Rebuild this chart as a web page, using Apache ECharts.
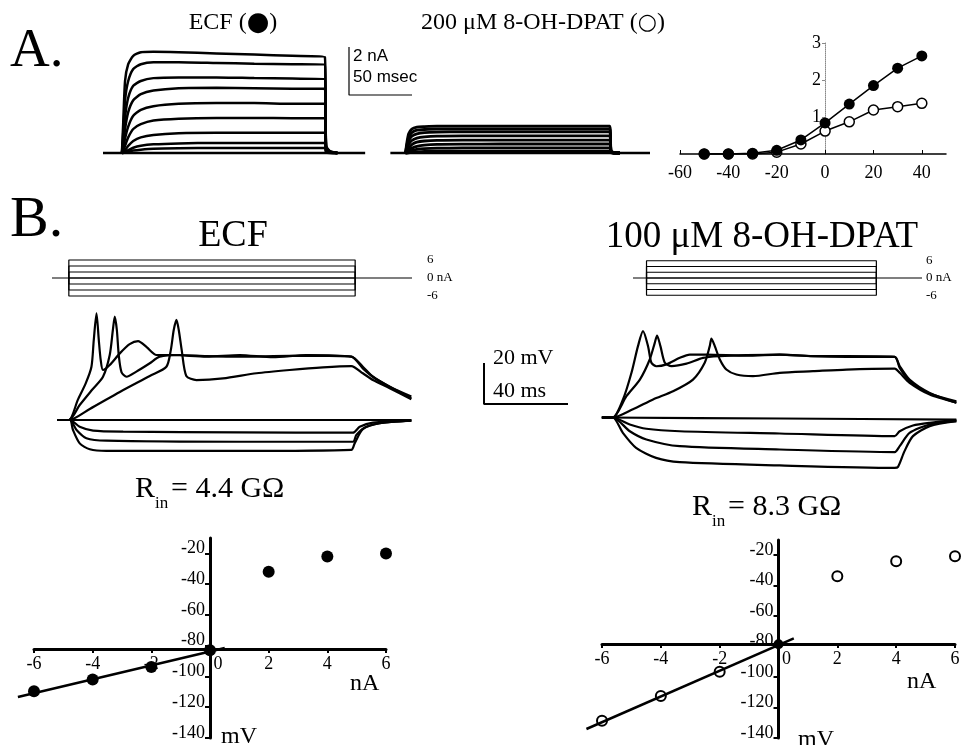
<!DOCTYPE html>
<html>
<head>
<meta charset="utf-8">
<script src="https://cdn.jsdelivr.net/npm/echarts@6/dist/echarts.min.js"></script>
<style>
html, body { margin: 0; padding: 0; background: #fff; }
#main { width: 968px; height: 745px; }
</style>
</head>
<body>
<div id="main"></div>
<script>
// ---- A: voltage clamp currents (ms, nA) ----
var timeEcfA = [15, 16, 17.5, 20, 24, 30, 40, 60, 90, 120, 150, 176, 177, 180, 186];
var currEcfA = [
    [0, 1.2, 3.0, 3.7, 4.05, 4.2, 4.22, 4.2, 4.15, 4.1, 4.05, 4.0, 0.3, 0.08, 0],
    [0, 0.8, 2.2, 3.0, 3.5, 3.7, 3.78, 3.78, 3.75, 3.72, 3.7, 3.68, 0.28, 0.06, 0],
    [0, 0.5, 1.5, 2.3, 2.8, 3.0, 3.12, 3.15, 3.15, 3.12, 3.1, 3.08, 0.25, 0.05, 0],
    [0, 0.3, 1.0, 1.7, 2.2, 2.45, 2.6, 2.7, 2.72, 2.7, 2.68, 2.68, 0.2, 0.05, 0],
    [0, 0.15, 0.6, 1.1, 1.55, 1.8, 1.95, 2.05, 2.08, 2.08, 2.05, 2.05, 0.18, 0.04, 0],
    [0, 0.08, 0.3, 0.65, 1.0, 1.2, 1.35, 1.43, 1.46, 1.46, 1.45, 1.45, 0.14, 0.03, 0],
    [0, 0.03, 0.12, 0.3, 0.5, 0.65, 0.75, 0.82, 0.84, 0.84, 0.84, 0.84, 0.1, 0.02, 0],
    [0, 0.01, 0.05, 0.12, 0.22, 0.3, 0.36, 0.4, 0.42, 0.42, 0.42, 0.42, 0.06, 0.01, 0],
    [0, 0, 0.02, 0.05, 0.1, 0.14, 0.18, 0.2, 0.21, 0.21, 0.21, 0.21, 0.03, 0, 0]
];
var timeDpatA = [240, 241, 242.5, 245, 249, 255, 265, 285, 315, 345, 375, 402, 403, 405, 410];
var currDpatA = [
    [0, 0.4, 0.8, 1.0, 1.08, 1.1, 1.12, 1.12, 1.12, 1.12, 1.12, 1.12, 0.12, 0.03, 0],
    [0, 0.3, 0.65, 0.85, 0.95, 0.98, 1.0, 1.0, 1.0, 1.0, 1.0, 1.0, 0.1, 0.02, 0],
    [0, 0.2, 0.5, 0.7, 0.8, 0.85, 0.87, 0.88, 0.88, 0.88, 0.88, 0.88, 0.08, 0.02, 0],
    [0, 0.12, 0.35, 0.52, 0.62, 0.67, 0.7, 0.71, 0.71, 0.71, 0.71, 0.71, 0.07, 0.01, 0],
    [0, 0.07, 0.2, 0.35, 0.45, 0.5, 0.53, 0.54, 0.54, 0.54, 0.54, 0.54, 0.05, 0.01, 0],
    [0, 0.03, 0.1, 0.2, 0.28, 0.33, 0.36, 0.37, 0.375, 0.375, 0.375, 0.375, 0.04, 0, 0],
    [0, 0.01, 0.04, 0.1, 0.15, 0.18, 0.2, 0.21, 0.21, 0.21, 0.21, 0.21, 0.02, 0, 0],
    [0, 0, 0.01, 0.03, 0.05, 0.07, 0.08, 0.08, 0.08, 0.08, 0.08, 0.08, 0.01, 0, 0]
];
var baseEcfA = [0, 208];
var baseDpatA = [228, 434];
var scaleBarA = [50, 2];   // msec, nA

// ---- A: I-V (mV, nA) ----
var ivVolt = [-50, -40, -30, -20, -10, 0, 10, 20, 30, 40];
var ivEcfA = [0, 0, 0.02, 0.1, 0.38, 0.84, 1.35, 1.85, 2.32, 2.65];
var ivDpatA = [0, 0, 0, 0.05, 0.27, 0.62, 0.87, 1.19, 1.28, 1.37];
var ivTicksA = [-60, -40, -20, 0, 20, 40];
var ivTicksYA = [1, 2, 3];

// ---- B: current steps (nA) ----
var stepLevels = [-6, -4, -2, 0, 2, 4, 6];
var stepTimes = [0, 136];
var stepSpan = [-8, 163];
var stepLabels = [-6, 0, 6];

// ---- B: voltage traces, ECF (ms, mV) ----
var vEcfP6 = [[-5.5, -80], [0, -80], [4.3, -70.2], [8.1, -62], [10.8, -54], [11.9, -41], [13.2, -28], [14.3, -41], [15.2, -50.7], [16.3, -55.6], [19.5, -53.2], [24.3, -47.5], [29, -43], [33, -41.5], [37.1, -44.4], [41.8, -48.3], [49.5, -48.3], [65.6, -49.1], [81.4, -48.3], [97.3, -49.4], [113.2, -48.3], [134.6, -49.1], [140.1, -54], [144.9, -58.9], [152.9, -63.8], [163.2, -68.6]];
var vEcfP4 = [[-5.5, -80], [0, -80], [5.2, -72.7], [11, -65.4], [16.3, -58.9], [19.5, -48.3], [21, -36.1], [21.9, -29.6], [22.9, -36.1], [23.8, -48.3], [25.1, -56.6], [27.5, -58.9], [32.2, -56.4], [38.6, -52.3], [43.3, -49.1], [52.9, -48.3], [65.6, -48.8], [81.4, -49.1], [97.3, -48.8], [113.2, -48.6], [134.6, -49.1], [140.1, -54.8], [144.9, -58.9], [152.9, -63.8], [163.2, -69.4]];
var vEcfP2 = [[-5.5, -80], [0, -80], [10, -74.6], [24.3, -66.3], [38.6, -58.5], [46.5, -54], [48.6, -45.9], [50, -36.1], [51.3, -31.2], [52.4, -36.1], [53.8, -45.9], [56, -58.5], [60.8, -60.5], [73.5, -59.7], [89.4, -57.2], [105.2, -55.6], [121.1, -54.3], [134.6, -53.7], [140.1, -57.2], [144.9, -60.5], [152.9, -64.5], [163.2, -69.9]];
var vEcfZero = [[-5.5, -80], [163.2, -80]];
var vEcfN2 = [[-5.5, -80], [0.5, -80], [5.2, -83.3], [11.6, -85.2], [25.9, -85.7], [81.4, -86], [135.4, -86.2], [138.6, -83.3], [144.9, -81.3], [163.2, -80.3]];
var vEcfN4 = [[-5.5, -80], [0.5, -80], [3.7, -84.9], [8.4, -88.9], [17.9, -90.1], [81.4, -90.6], [135.4, -90.6], [137, -87.3], [141.7, -83.3], [151.3, -81.1], [163.2, -80.3]];
var vEcfN6 = [[-5.5, -80], [0.5, -80], [2, -84.9], [5.2, -91.4], [10, -94.3], [17.9, -95.1], [81.4, -95.1], [134.6, -94.6], [136.2, -91.4], [140.1, -84.5], [148.1, -81.6], [163.2, -80.3]];

// ---- B: voltage traces, 8-OH-DPAT (ms, mV) ----
var vDpatP6 = [[-5.2, -80], [0, -80], [4.9, -71.1], [8.9, -58.2], [12, -45.2], [14.4, -37.9], [16.8, -45.2], [18.4, -53.3], [20.8, -55], [25.6, -54.1], [31.9, -50.9], [36.7, -49.3], [44.6, -49.3], [63.7, -49.8], [79.5, -49.3], [95.4, -50.1], [111.3, -50.4], [134.3, -50.4], [136.7, -54.9], [141.4, -61.5], [151, -68], [163.7, -72.8]];
var vDpatP4 = [[-5.2, -80], [0, -80], [6.5, -69.6], [12.9, -61.5], [17.6, -51.7], [20, -43.6], [21.1, -40], [22.7, -45.2], [24.8, -53.3], [28, -54.9], [35.1, -53.7], [43, -50.9], [51, -50.1], [63.7, -49.6], [79.5, -49.3], [95.4, -50.1], [111.3, -50.1], [134.3, -50.4], [136.7, -55.8], [141.4, -62.3], [151, -68.3], [163.7, -72.1]];
var vDpatP2 = [[-5.2, -80], [0, -80], [9.6, -76], [19.2, -71.2], [28.7, -67.2], [38.2, -61.5], [43.8, -53.3], [46.2, -45.2], [47, -41.5], [48.6, -45.2], [51, -51.7], [54.1, -56.6], [58.9, -59], [66.8, -59.8], [79.5, -58.2], [95.4, -57.4], [111.3, -56.6], [134.3, -56.2], [136.7, -58.2], [141.4, -63.1], [151, -68.8], [163.7, -72.8]];
var vDpatZero = [[-5.2, -80], [80, -80.5], [163.7, -81]];
var vDpatN2 = [[-5.2, -80], [0, -80], [8.1, -83.4], [16, -85.5], [31.9, -86.7], [79.5, -87.8], [134.3, -89.1], [136.7, -86.7], [143, -83.9], [151, -82.6], [163.7, -81.3]];
var vDpatN4 = [[-5.2, -80], [0, -80], [8.1, -86.7], [16, -90.7], [31.9, -94], [79.5, -95.6], [134.3, -96.9], [136.7, -94], [141.4, -87.5], [151, -83.4], [163.7, -81.8]];
var vDpatN6 = [[-5.2, -80], [0, -80], [4.8, -87.5], [11.1, -94.8], [20.6, -99.7], [31.9, -101.8], [79.5, -103.4], [134.3, -104.6], [135.9, -104.1], [139, -96.4], [143, -89.1], [151, -84.2], [163.7, -81.8]];
var scaleBarB = [40, 20];  // ms, mV

// ---- B: V-I plots (nA, mV) ----
var ivCurrent = [-6, -4, -2, 0, 2, 4, 6];
var ivEcfMv = [-109.6, -102, -93.8, -83, -32, -22, -20];
var ivDpatMv = [-128.7, -112.5, -96.5, -78.4, -33.8, -23.9, -20.7];
var fitEcf = [[-6.55, -113.3], [0.5, -81.5]];
var fitDpat = [[-6.53, -134.1], [0.52, -74.6]];
var mvTicks = [-140, -120, -100, -80, -60, -40, -20];

var SERIF = 'Liberation Serif';
var SANS = 'Liberation Sans';

function zip(xs, ys) {
    return xs.map(function (x, i) { return [x, ys[i]]; });
}

function trace(idx, data, width, smooth) {
    return {
        type: 'line', xAxisIndex: idx, yAxisIndex: idx, data: data,
        symbol: 'none', smooth: smooth || false, silent: true, clip: false,
        lineStyle: {color: '#000', width: width}
    };
}

function hidden(idx, min, max) {
    return {gridIndex: idx, type: 'value', min: min, max: max, show: false};
}

function txt(x, y, s, size, align, family) {
    return {
        type: 'text', x: x, y: y, silent: true,
        style: {
            text: s, fill: '#000', fontSize: size, fontFamily: family || SERIF,
            align: align || 'left', verticalAlign: 'middle'
        }
    };
}

var grids = [
    {left: 103, top: 45, width: 547, height: 120},   // 0 A traces
    {left: 349, top: 47, width: 63, height: 48},     // 1 A scale bar
    {left: 680, top: 43, width: 266, height: 111},   // 2 A I-V
    {left: 52, top: 254, width: 360, height: 48},    // 3 ECF steps
    {left: 52, top: 297, width: 361, height: 164},   // 4 ECF voltage
    {left: 633, top: 255, width: 289, height: 46},   // 5 DPAT steps
    {left: 596, top: 315, width: 361, height: 164},  // 6 DPAT voltage
    {left: 484, top: 363, width: 84, height: 41},    // 7 B scale bar
    {left: 34, top: 538, width: 352, height: 200},   // 8 ECF V-I
    {left: 602, top: 540, width: 353, height: 198},  // 9 DPAT V-I
    {left: 4.7, top: 538, width: 234.7, height: 200},  // 10 ECF fit
    {left: 572.6, top: 540, width: 235.3, height: 198} // 11 DPAT fit
];
grids.forEach(function (g) { g.containLabel = false; g.outerBoundsMode = 'none'; });

var stepYAxis = function (idx, margin) {
    return {
        gridIndex: idx, type: 'value', min: -8, max: 8, position: 'right',
        axisLine: {show: false}, axisTick: {show: false}, splitLine: {show: false},
        axisLabel: {
            customValues: stepLabels, margin: margin, color: '#000',
            fontFamily: SERIF, fontSize: 13, align: 'left',
            formatter: function (v) { return v === 0 ? '0 nA' : String(v); }
        }
    };
};

var viXAxis = function (idx, offset) {
    return {
        gridIndex: idx, type: 'value', min: -6, max: 6, interval: 2,
        position: 'bottom', offset: offset,
        axisLine: {onZero: false, lineStyle: {color: '#000', width: 3}},
        axisTick: {show: true, length: 4, lineStyle: {color: '#000', width: 2}},
        splitLine: {show: false},
        axisLabel: {
            color: '#000', fontFamily: SERIF, fontSize: 18, margin: 6,
            formatter: function (v) { return v === 0 ? '{z|0}' : String(v); },
            rich: {z: {padding: [0, 0, 0, 16], color: '#000', fontFamily: SERIF, fontSize: 18}}
        }
    };
};

var viYAxis = function (idx, offset) {
    return {
        gridIndex: idx, type: 'value', min: -140, max: -10,
        position: 'left', offset: offset,
        axisLine: {show: true, onZero: false, lineStyle: {color: '#000', width: 3}},
        axisTick: {show: true, length: 5, customValues: mvTicks, lineStyle: {color: '#000', width: 2}},
        splitLine: {show: false},
        axisLabel: {
            customValues: mvTicks, color: '#000', fontFamily: SERIF, fontSize: 18,
            margin: 5, verticalAlign: 'bottom', lineHeight: 10
        }
    };
};

var xAxes = [
    hidden(0, 0, 434),
    hidden(1, 0, 50),
    {
        gridIndex: 2, type: 'value', min: -60, max: 50,
        axisLine: {onZero: false, lineStyle: {color: '#000', width: 1.5}},
        axisTick: {show: true, inside: true, length: 4, customValues: ivTicksA, lineStyle: {color: '#000'}},
        splitLine: {show: false},
        axisLabel: {customValues: ivTicksA, color: '#000', fontFamily: SERIF, fontSize: 18, margin: 10}
    },
    hidden(3, stepSpan[0], stepSpan[1]),
    hidden(4, -8, 164),
    hidden(5, stepSpan[0], stepSpan[1]),
    hidden(6, -8, 164),
    hidden(7, 0, 40),
    viXAxis(8, -89),
    viXAxis(9, -94),
    hidden(10, -7, 1),
    hidden(11, -7, 1)
];

var yAxes = [
    hidden(0, -0.5, 4.5),
    hidden(1, 0, 2),
    {
        gridIndex: 2, type: 'value', min: 0, max: 3, position: 'left', offset: -145,
        axisLine: {show: true, onZero: false, lineStyle: {color: '#888', width: 1, type: 'dotted'}},
        axisTick: {show: true, length: 3, customValues: ivTicksYA, lineStyle: {color: '#888'}},
        splitLine: {show: false},
        axisLabel: {customValues: ivTicksYA, color: '#000', fontFamily: SERIF, fontSize: 18, margin: 4}
    },
    stepYAxis(3, 15),
    hidden(4, -100, -20),
    stepYAxis(5, 4),
    hidden(6, -110, -30),
    hidden(7, 0, 20),
    viYAxis(8, -176),
    viYAxis(9, -176.5),
    hidden(10, -140, -10),
    hidden(11, -140, -10)
];

var series = [];

// A current traces
series.push(trace(0, [[baseEcfA[0], 0], [baseEcfA[1], 0]], 2.5));
series.push(trace(0, [[baseDpatA[0], 0], [baseDpatA[1], 0]], 2.5));
currEcfA.forEach(function (c) { series.push(trace(0, zip(timeEcfA, c), 2.5, 0.2)); });
currDpatA.forEach(function (c) { series.push(trace(0, zip(timeDpatA, c), 2.8, 0.2)); });
series.push(trace(1, [[0, scaleBarA[1]], [0, 0], [scaleBarA[0], 0]], 1.2));

// A I-V
series.push({
    type: 'line', xAxisIndex: 2, yAxisIndex: 2, data: zip(ivVolt, ivDpatA),
    symbol: 'circle', symbolSize: 10, showSymbol: true, silent: true,
    lineStyle: {color: '#000', width: 1.5},
    itemStyle: {color: '#fff', borderColor: '#000', borderWidth: 1.5}
});
series.push({
    type: 'line', xAxisIndex: 2, yAxisIndex: 2, data: zip(ivVolt, ivEcfA),
    symbol: 'circle', symbolSize: 11, showSymbol: true, silent: true,
    lineStyle: {color: '#000', width: 1.5},
    itemStyle: {color: '#000', borderColor: '#000', borderWidth: 0}
});

// B current steps
[3, 5].forEach(function (g) {
    series.push(trace(g, [[stepSpan[0], 0], [stepSpan[1], 0]], 1.2));
    stepLevels.forEach(function (lv) {
        series.push(trace(g, [[stepTimes[0], 0], [stepTimes[0], lv], [stepTimes[1], lv], [stepTimes[1], 0]], 1.2));
    });
});

// B voltage traces
[vEcfZero, vEcfN2, vEcfN4, vEcfN6, vEcfP2, vEcfP4, vEcfP6].forEach(function (d) {
    series.push(trace(4, d, 2.2, 0.25));
});
[vDpatZero, vDpatN2, vDpatN4, vDpatN6, vDpatP2, vDpatP4, vDpatP6].forEach(function (d) {
    series.push(trace(6, d, 2.2, 0.25));
});
series.push(trace(7, [[0, scaleBarB[1]], [0, 0], [scaleBarB[0], 0]], 2));

// B V-I plots
series.push(trace(10, fitEcf, 2.5));
series.push({
    type: 'scatter', xAxisIndex: 8, yAxisIndex: 8, data: zip(ivCurrent, ivEcfMv),
    symbolSize: 12, silent: true, itemStyle: {color: '#000', opacity: 1}
});
series.push(trace(11, fitDpat, 2.5));
var dpatPts = zip(ivCurrent, ivDpatMv);
series.push({
    type: 'scatter', xAxisIndex: 9, yAxisIndex: 9,
    data: dpatPts.filter(function (p) { return p[0] !== 0; }),
    symbolSize: 10, silent: true,
    itemStyle: {color: '#fff', borderColor: '#000', borderWidth: 2, opacity: 1}
});
series.push({
    type: 'scatter', xAxisIndex: 9, yAxisIndex: 9,
    data: dpatPts.filter(function (p) { return p[0] === 0; }),
    symbolSize: 10, silent: true, itemStyle: {color: '#000', opacity: 1}
});

var richTitle = function (mark) {
    return {
        t: {fontFamily: SERIF, fontSize: 24, fill: '#000', color: '#000'},
        c: {fontFamily: 'DejaVu Sans', fontSize: mark === '●' ? 26 : 22, fill: '#000', color: '#000'}
    };
};

var graphic = [
    txt(10, 52, 'A.', 55),
    txt(10, 221, 'B.', 58),
    {
        type: 'text', x: 233, y: 23, silent: true,
        style: {text: '{t|ECF (}{c|●}{t|)}', align: 'center', verticalAlign: 'middle', rich: richTitle('●')}
    },
    {
        type: 'text', x: 543, y: 23, silent: true,
        style: {text: '{t|200 μM 8-OH-DPAT (}{c|○}{t|)}', align: 'center', verticalAlign: 'middle', rich: richTitle('○')}
    },
    txt(353, 56, '2 nA', 17, 'left', SANS),
    txt(353, 77, '50 msec', 17, 'left', SANS),
    txt(233, 236, 'ECF', 38, 'center'),
    txt(762, 237, '100 μM 8-OH-DPAT', 37, 'center'),
    txt(493, 358, '20 mV', 22),
    txt(493, 391, '40 ms', 22),
    txt(135, 489, 'R', 30),
    txt(155, 504, 'in', 17),
    txt(171, 489, '= 4.4 GΩ', 30),
    txt(692, 507, 'R', 30),
    txt(712, 522, 'in', 17),
    txt(728, 507, '= 8.3 GΩ', 30),
    txt(350, 684, 'nA', 24),
    txt(907, 682, 'nA', 24),
    txt(221, 737, 'mV', 24),
    txt(798, 740, 'mV', 24)
];

var chart = echarts.init(document.getElementById('main'));
chart.setOption({
    backgroundColor: '#fff',
    animation: false,
    grid: grids,
    xAxis: xAxes,
    yAxis: yAxes,
    series: series,
    graphic: graphic
});
</script>
</body>
</html>
